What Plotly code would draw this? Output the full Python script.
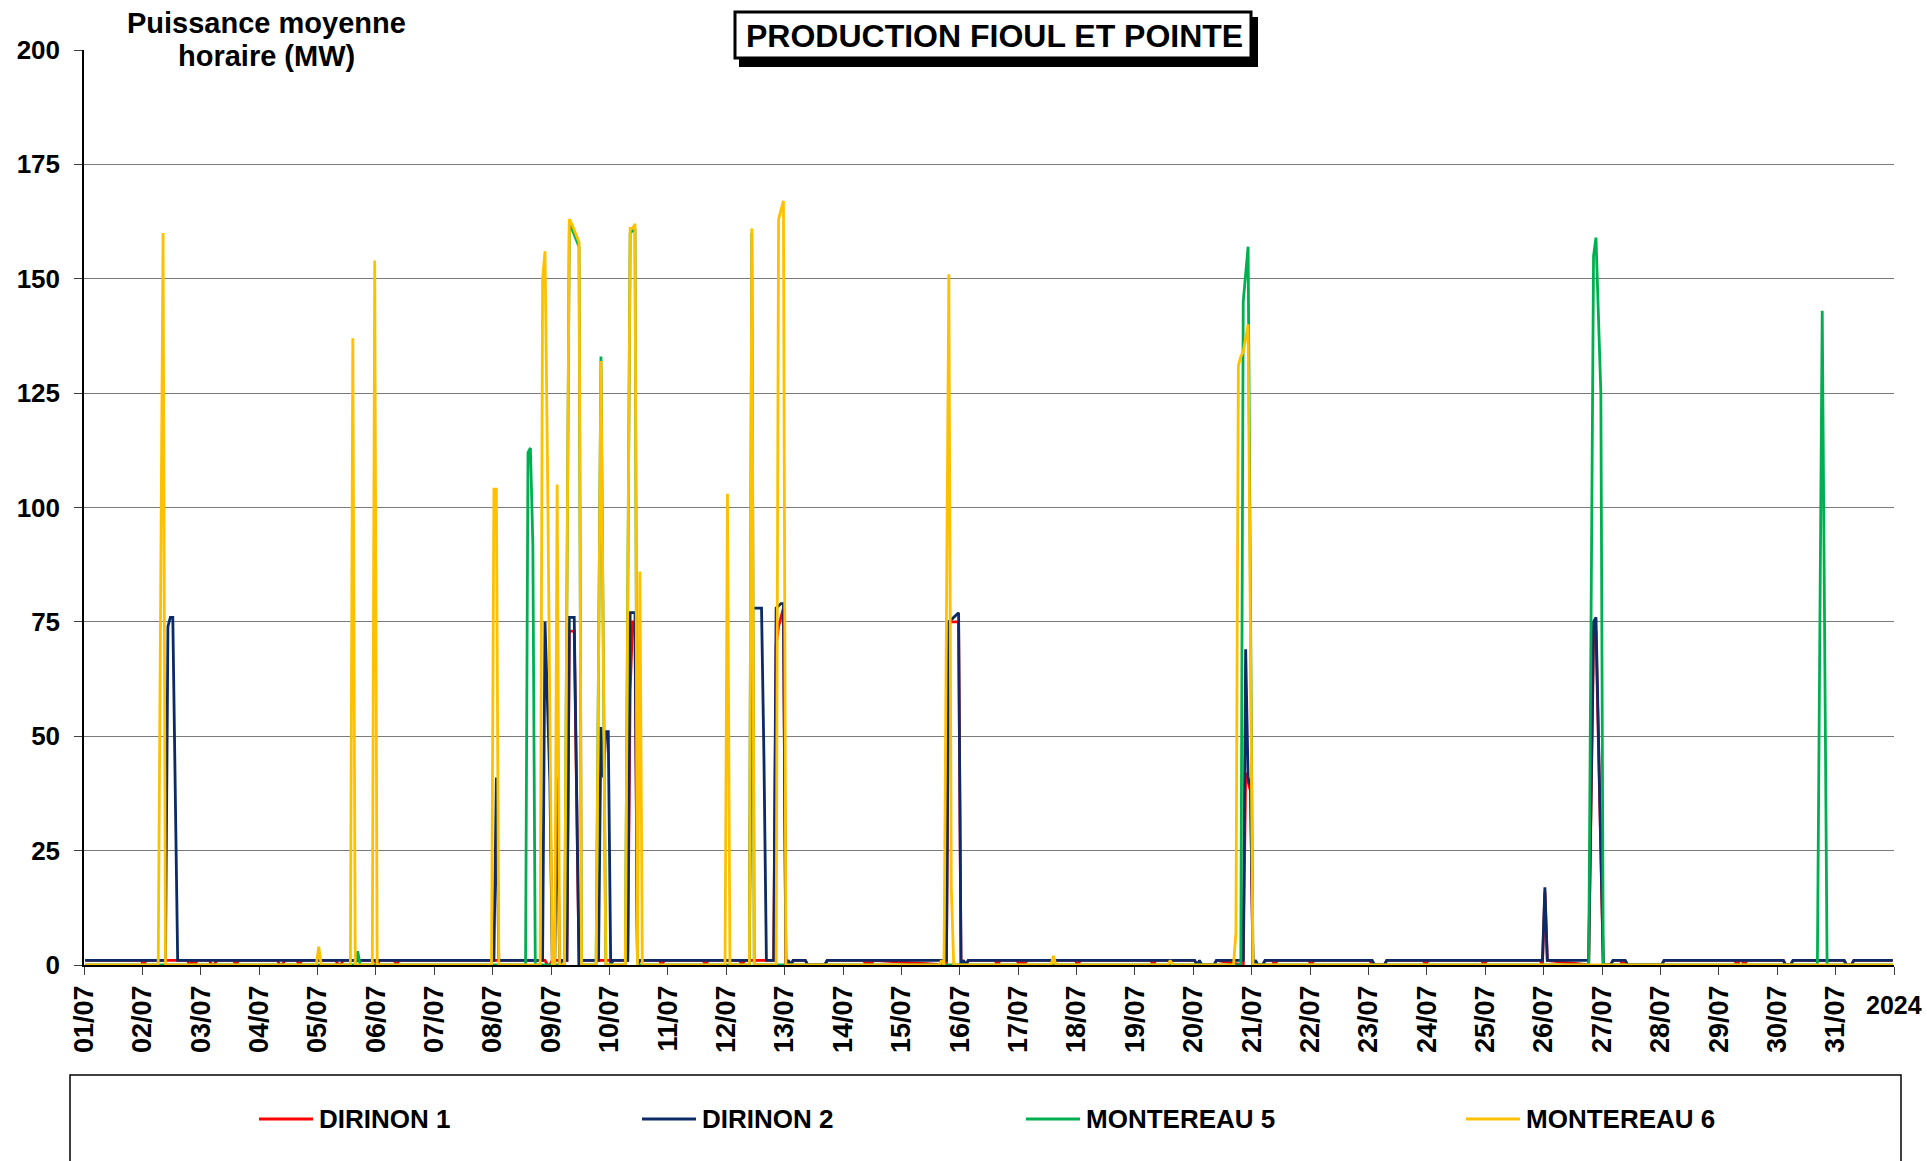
import plotly.graph_objects as go

# Hourly mean output (MW), July 2024. Each series is stored as breakpoints:
# hour index since 01/07 00:00 and the value at that hour; the value holds
# (straight segment) between consecutive breakpoints.
DIRINON_1_H = [0, 23, 24, 25, 42, 43, 44, 45, 46, 51, 52, 53, 54, 61, 62, 63, 79, 80, 81, 82,
               87, 88, 89, 103, 104, 105, 106, 119, 120, 121, 127, 128, 129,
               189, 190, 191, 192, 198, 199, 201, 203, 204,
               223, 224, 225, 226, 227, 228, 236, 237, 238, 254, 255, 256, 269, 270, 271,
               283, 284, 285, 286, 287, 288, 289, 290, 291, 296, 297, 304, 305,
               320, 321, 322, 323, 324, 354, 355, 358, 359, 360, 361, 362, 363,
               374, 375, 376, 383, 384, 385, 386, 387, 407, 408, 409, 438, 439, 440,
               456, 457, 464, 465, 476, 477, 478, 479, 480, 481, 482, 484, 485,
               488, 489, 490, 503, 504, 505, 528, 529, 534, 535, 550, 551, 552, 574, 575, 576,
               598, 599, 600, 601, 618, 620, 621, 624, 627, 628, 631, 632, 633, 634, 648, 649,
               678, 679, 680, 681, 682, 683, 698, 699, 701, 702, 723, 724, 726, 727, 743]
DIRINON_1_MW = [1, 1, 0, 1, 1, 0, 1, 0, 1, 1, 0, 0, 1, 1, 0, 1, 1, 0, 0, 1,
                1, 0, 1, 1, 0, 0, 1, 1, 0, 1, 1, 0, 1,
                1, 0, 0, 1, 1, 73, 73, 0, 1,
                1, 60, 75, 75, 0, 1, 1, 0, 1, 1, 0, 1, 1, 0, 1,
                1, 70, 74, 76, 78, 0, 1, 0, 1, 1, 0, 0, 1,
                1, 0, 1, 0, 1, 0, 75, 75, 75, 0, 1, 0, 1,
                1, 0, 1, 1, 0, 1, 0, 1, 1, 0, 1, 1, 0, 1,
                1, 0, 0, 1, 0, 42, 40, 38, 0, 1, 0, 0, 1,
                1, 0, 1, 1, 0, 1, 1, 0, 0, 1, 1, 0, 1, 1, 0, 1,
                1, 0, 16, 1, 0, 71, 73, 0, 0, 1, 1, 0, 1, 0, 0, 1,
                1, 0, 1, 1, 0, 1, 1, 0, 0, 1, 1, 0, 0, 1, 1]

DIRINON_2_H = [0, 33, 34, 35, 36, 38, 168, 169, 170,
               188, 189, 191, 192, 193, 194, 195, 196, 198, 199, 201, 203, 204,
               211, 212, 213, 214, 215, 216, 217, 223, 224, 226, 227, 228,
               273, 274, 278, 279, 280, 283, 284, 286, 287, 288, 289, 290, 291, 296, 297, 304, 305,
               354, 355, 359, 360, 361, 362, 363,
               456, 457, 458, 459, 464, 465,
               476, 477, 478, 479, 480, 481, 482, 484, 485, 529, 530, 534, 535,
               599, 600, 601, 618, 620, 621, 624, 627, 628, 633, 634, 648, 649,
               698, 699, 701, 702, 723, 724, 726, 727, 743]
DIRINON_2_MW = [1, 1, 74, 76, 76, 1, 1, 41, 1,
                1, 75, 40, 0, 0, 41, 0, 1, 1, 76, 76, 0, 1,
                1, 52, 41, 51, 51, 0, 1, 1, 77, 77, 0, 1,
                1, 78, 78, 45, 1, 1, 78, 79, 79, 0, 1, 0, 1, 1, 0, 0, 1,
                1, 75, 77, 0, 1, 0, 1,
                1, 0, 1, 0, 0, 1,
                1, 69, 41, 39, 0, 1, 0, 0, 1, 1, 0, 0, 1,
                1, 17, 1, 1, 75, 76, 0, 0, 1, 1, 0, 0, 1,
                1, 0, 0, 1, 1, 0, 0, 1, 1]

MONTEREAU_5_H = [0, 111, 112, 113, 181, 182, 183, 184, 185,
                 197, 199, 200, 203, 204, 210, 212, 214, 222, 224, 226, 227,
                 273, 274, 275, 475, 476, 478, 480,
                 618, 620, 621, 623, 624, 712, 714, 716, 743]
MONTEREAU_5_MW = [0, 0, 3, 0, 0, 112, 113, 92, 0,
                  0, 162, 161, 157, 0, 0, 133, 0, 0, 160, 161, 0,
                  0, 160, 0, 0, 145, 157, 0,
                  0, 155, 159, 125, 0, 0, 143, 0, 0]

MONTEREAU_6_H = [0, 30, 32, 33, 95, 96, 97, 109, 110, 111, 118, 119, 120,
                 167, 168, 169, 170, 187, 188, 189, 190, 191, 192, 193, 194, 195,
                 197, 199, 200, 203, 204, 210, 212, 214,
                 222, 224, 225, 226, 227, 228, 229, 263, 264, 265, 273, 274, 275,
                 284, 285, 287, 288, 351, 352, 353, 355, 356, 357, 397, 398, 399,
                 445, 446, 447, 472, 473, 474, 475, 476, 478, 480, 743]
MONTEREAU_6_MW = [0, 0, 160, 0, 0, 4, 0, 0, 137, 0, 0, 154, 0,
                  0, 104, 104, 0, 0, 150, 156, 110, 50, 0, 0, 105, 0,
                  0, 163, 162, 158, 0, 0, 132, 0,
                  0, 161, 161, 162, 0, 86, 0, 0, 103, 0, 0, 161, 0,
                  0, 163, 167, 0, 0, 1, 0, 151, 17, 0, 0, 2, 0,
                  0, 1, 0, 0, 7, 131, 133, 134, 140, 0, 0]

SERIES_NAMES = ["DIRINON 1", "DIRINON 2", "MONTEREAU 5", "MONTEREAU 6"]
SERIES_COLORS = ["#FF0000", "#0B2A66", "#00B050", "#FFC000"]

DAY_LABELS = [f"{d:02d}/07" for d in range(1, 32)]
Y_TICKS = [0, 25, 50, 75, 100, 125, 150, 175, 200]

FONT = "Liberation Sans, Arial, sans-serif"

# geometry of the page (pixels)
W, H = 1927, 1161
L, R, T, B = 84, 33, 50, 196
PW, PH = W - L - R, H - T - B


def px(x):
    return (x - L) / PW


def py(y):
    return (H - B - y) / PH


fig = go.Figure()
series = [
    (DIRINON_1_H, DIRINON_1_MW),
    (DIRINON_2_H, DIRINON_2_MW),
    (MONTEREAU_5_H, MONTEREAU_5_MW),
    (MONTEREAU_6_H, MONTEREAU_6_MW),
]
for (hours, mw), name, color in zip(series, SERIES_NAMES, SERIES_COLORS):
    fig.add_trace(go.Scatter(
        x=[h + 0.5 for h in hours], y=mw, name=name, mode="lines",
        line=dict(color=color, width=2.8), showlegend=False,
    ))

shapes = []
annotations = []

# boxed chart title with a drop shadow
shapes.append(dict(type="rect", xref="paper", yref="paper", layer="above",
                   x0=px(739), x1=px(1258), y0=py(67), y1=py(17),
                   fillcolor="black", line=dict(width=0)))
shapes.append(dict(type="rect", xref="paper", yref="paper", layer="above",
                   x0=px(735), x1=px(1251), y0=py(58), y1=py(12),
                   fillcolor="white", line=dict(color="black", width=3)))
annotations.append(dict(text="<b>PRODUCTION FIOUL ET POINTE</b>", xref="paper", yref="paper",
                        x=px(994), y=py(36), xanchor="center", yanchor="middle",
                        showarrow=False, font=dict(family=FONT, size=32, color="black")))

# y-axis title sitting on a white patch over the top gridline
shapes.append(dict(type="rect", xref="paper", yref="paper", layer="above",
                   x0=px(115), x1=px(415), y0=py(74), y1=py(4),
                   fillcolor="white", line=dict(width=0)))
annotations.append(dict(text="<b>Puissance moyenne</b>", xref="paper", yref="paper",
                        x=px(266), y=py(23), xanchor="center", yanchor="middle",
                        showarrow=False, font=dict(family=FONT, size=29, color="black")))
annotations.append(dict(text="<b>horaire (MW)</b>", xref="paper", yref="paper",
                        x=px(266), y=py(56), xanchor="center", yanchor="middle",
                        showarrow=False, font=dict(family=FONT, size=29, color="black")))

# year label at the end of the time axis
annotations.append(dict(text="<b>2024</b>", xref="paper", yref="paper",
                        x=px(1864), y=py(1005), xanchor="left", yanchor="middle",
                        showarrow=False, font=dict(family=FONT, size=25, color="black")))

# legend frame and entries
shapes.append(dict(type="rect", xref="paper", yref="paper", layer="above",
                   x0=px(70), x1=px(1901), y0=py(1175), y1=py(1075),
                   fillcolor="rgba(0,0,0,0)", line=dict(color="black", width=1.5)))
legend_x = [259, 642, 1026, 1466]
legend_y = 1119
for name, color, lx in zip(SERIES_NAMES, SERIES_COLORS, legend_x):
    shapes.append(dict(type="line", xref="paper", yref="paper", layer="above",
                       x0=px(lx), x1=px(lx + 54), y0=py(legend_y), y1=py(legend_y),
                       line=dict(color=color, width=3)))
    annotations.append(dict(text=f"<b>{name}</b>", xref="paper", yref="paper",
                            x=px(lx + 58), y=py(legend_y), xanchor="left", yanchor="middle",
                            showarrow=False, font=dict(family=FONT, size=26, color="black")))

fig.update_layout(
    width=W, height=H, autosize=False,
    margin=dict(l=L, r=R, t=T, b=B, pad=0),
    paper_bgcolor="white", plot_bgcolor="white",
    showlegend=False,
    shapes=shapes, annotations=annotations,
    font=dict(family=FONT, color="black"),
)
fig.update_xaxes(
    range=[0, 744], tickmode="array",
    tickvals=[24 * i for i in range(32)], ticktext=DAY_LABELS + [""],
    tickangle=-90, ticks="outside", ticklen=8, tickwidth=1.3, tickcolor="#404040",
    tickfont=dict(family=FONT, size=27, color="black", weight="bold"),
    showline=True, linecolor="black", linewidth=1.5,
    showgrid=False, zeroline=False, fixedrange=True,
)
fig.update_yaxes(
    range=[0, 200], tickmode="array", tickvals=Y_TICKS,
    ticks="outside", ticklen=8, tickwidth=1.3, tickcolor="#404040",
    tickfont=dict(family=FONT, size=26, color="black", weight="bold"),
    ticklabelstandoff=9,
    showline=True, linecolor="black", linewidth=1.5,
    showgrid=True, gridcolor="#7a7a7a", gridwidth=1.3,
    zeroline=False, fixedrange=True,
)

fig.write_html("out.html", config={"displayModeBar": False})
